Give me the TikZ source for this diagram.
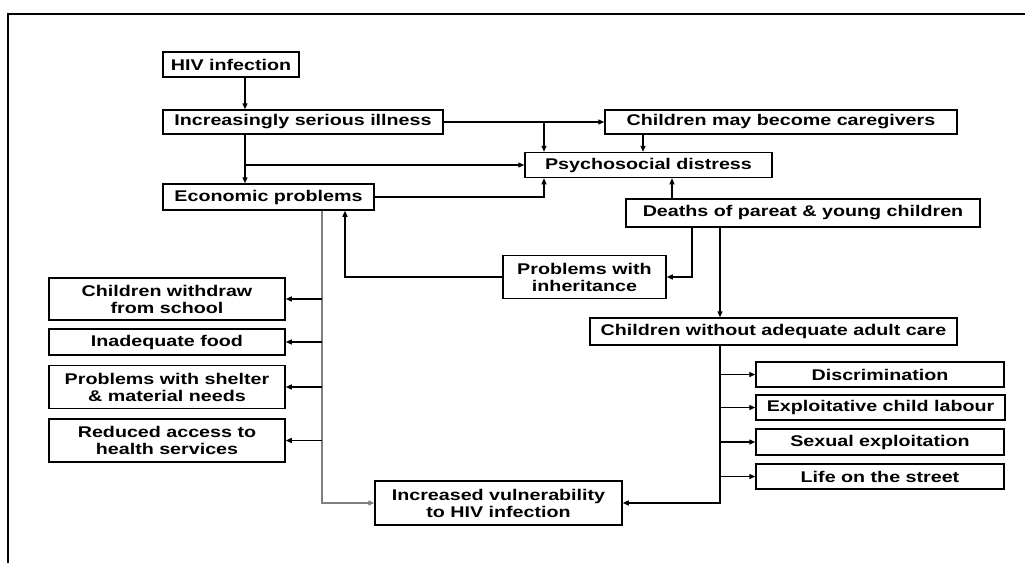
\documentclass[tikz,border=0pt]{standalone}
\usepackage{fontspec}
\setmainfont{Liberation Sans}[FakeStretch=1.27]
\usetikzlibrary{arrows.meta}

\tikzset{
  tbox/.style={draw, line width=1.5pt, inner sep=0pt, align=center,
    font=\fontsize{15.5}{17}\selectfont\bfseries},
  arr/.style={line width=1.3pt, -{Triangle[length=6pt,width=5pt]}},
  lin/.style={line width=1.3pt}
}

\begin{document}
\begin{tikzpicture}[x=1pt,y=-1pt]
                \useasboundingbox (0,0) rectangle (1025,563);
                \draw[line width=1.6pt] (8,563) -- (8,14) -- (1025,14);

                \coordinate (trunk) at (245,0);
                \coordinate (colB) at (544,0);
                \coordinate (colC) at (643,0);
                \coordinate (colD) at (672,0);
                \coordinate (colE) at (692,0);
                \coordinate (colF) at (345,0);
                \coordinate (colG) at (720,0);
                \coordinate (colH) at (322,0);

                \node[tbox, minimum width=136pt, minimum height=25pt] (hiv) at (231,64.5) {HIV infection};
                \node[tbox, minimum width=280pt, minimum height=24pt] (illness) at (303,122) {Increasingly serious illness};
                \node[tbox, minimum width=211pt, minimum height=26pt] (econ) at (268.5,197) {Economic problems};

                \node[tbox, minimum width=352pt, minimum height=24pt] (carers) at (781,122) {Children may become caregivers};
                \node[tbox, minimum width=247pt, minimum height=25pt] (distress) at (648.5,165) {Psychosocial distress};
                \node[tbox, minimum width=354pt, minimum height=28pt] (deaths) at (803,213) {Deaths of pareat \& young children};
                \node[tbox, minimum width=163pt, minimum height=43pt] (inherit) at (584.5,277) {Problems with\\inheritance};
                \node[tbox, minimum width=367pt, minimum height=27pt] (noadult) at (773.5,331.5) {Children without adequate adult care};

                \node[tbox, minimum width=236pt, minimum height=42pt] (withdraw) at (167,299) {Children withdraw\\from school};
                \node[tbox, minimum width=236pt, minimum height=26pt] (food) at (167,342) {Inadequate food};
                \node[tbox, minimum width=236pt, minimum height=43pt] (shelter) at (167,387) {Problems with shelter\\\& material needs};
                \node[tbox, minimum width=236pt, minimum height=43pt] (health) at (167,440.5) {Reduced access to\\health services};

                \node[tbox, minimum width=247pt, minimum height=44pt] (vuln) at (498.5,503) {Increased vulnerability\\to HIV infection};

                \node[tbox, minimum width=248pt, minimum height=25pt] (discrim) at (880,374.5) {Discrimination};
                \node[tbox, minimum width=249pt, minimum height=25pt] (labour) at (880.5,407.5) {Exploitative child labour};
                \node[tbox, minimum width=248pt, minimum height=26pt] (sexual) at (880,442) {Sexual exploitation};
                \node[tbox, minimum width=248pt, minimum height=25pt] (street) at (880,476.5) {Life on the street};

                \draw[arr] (hiv.south -| trunk) -- (illness.north -| trunk);
                \draw[arr] (illness.south -| trunk) -- (econ.north -| trunk);
                \draw[arr] (illness.south -| trunk) |- (distress.west);
                \draw[arr] (illness.east) -- (carers.west);
                \draw[arr] (illness.east -| colB) -- (distress.north -| colB);
                \draw[arr] (carers.south -| colC) -- (distress.north -| colC);
                \draw[arr] (econ.east) -| (distress.south -| colB);
                \draw[arr] (deaths.north -| colD) -- (distress.south -| colD);
                \draw[arr] (deaths.south -| colE) |- (inherit.east);
                \draw[arr] (inherit.west) -| (econ.south -| colF);
                \draw[arr] (deaths.south -| colG) -- (noadult.north -| colG);

                \draw[arr, black!50] (econ.south -| colH) |- (vuln.west);
                \foreach \n in {withdraw,food,shelter,health}
                  \draw[arr] (\n.east -| colH) -- (\n.east);

                \draw[arr] (noadult.south -| colG) |- (vuln.east);
                \foreach \n in {discrim,labour,sexual,street}
                  \draw[arr] (\n.west -| colG) -- (\n.west);
\end{tikzpicture}
\end{document}
